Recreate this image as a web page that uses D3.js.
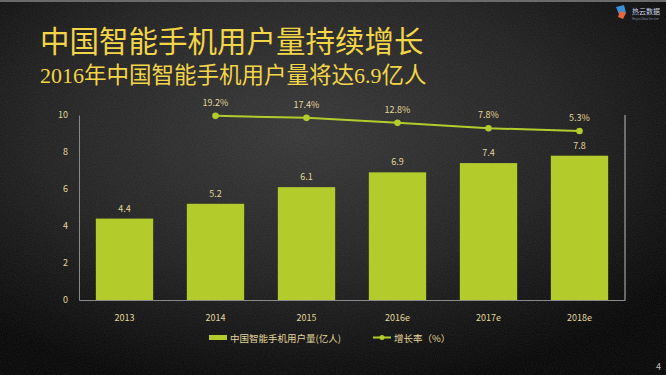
<!DOCTYPE html>
<meta charset="utf-8">
<head>
<script src="https://d3js.org/d3.v7.min.js"></script>
<style>
  html, body { margin: 0; padding: 0; background: #000; }
  #chart { width: 666px; height: 375px; }
  text { font-family: "Noto Sans CJK SC", "Open Sans", sans-serif; }
</style>
</head>
<body>
<div id="chart"></div>
<script>
  // data
  const years = ["2013", "2014", "2015", "2016e", "2017e", "2018e"];
  const users = [4.4, 5.2, 6.1, 6.9, 7.4, 7.8];          // 亿人
  const growth = [null, 19.2, 17.4, 12.8, 7.8, 5.3];     // %
  const yTicks = [0, 2, 4, 6, 8, 10];

  const W = 666, H = 375;
  const margin = {top: 115, right: 41, bottom: 75, left: 79};
  const width = W - margin.left - margin.right,
        height = H - margin.top - margin.bottom;

  const svg = d3.select("#chart").append("svg")
    .attr("width", W).attr("height", H);

  // background: dark textured slide with vignette
  const defs = svg.append("defs");
  const rg = defs.append("radialGradient").attr("id", "bg")
    .attr("cx", "45%").attr("cy", "35%").attr("r", "70%");
  rg.append("stop").attr("offset", "0%").attr("stop-color", "#353535");
  rg.append("stop").attr("offset", "55%").attr("stop-color", "#1f1f1f");
  rg.append("stop").attr("offset", "100%").attr("stop-color", "#030303");
  const filt = defs.append("filter").attr("id", "grain");
  filt.append("feTurbulence").attr("type", "fractalNoise")
    .attr("baseFrequency", 0.9).attr("numOctaves", 2).attr("seed", 3);
  filt.append("feColorMatrix").attr("type", "matrix")
    .attr("values", "0 0 0 0 0.6  0 0 0 0 0.6  0 0 0 0 0.6  0 0 0 0.12 0");
  svg.append("rect").attr("width", W).attr("height", H).attr("fill", "url(#bg)");
  svg.append("rect").attr("width", W).attr("height", H).attr("filter", "url(#grain)");
  svg.append("rect").attr("width", W).attr("height", 2).attr("fill", "#6a6a6a");

  // titles
  svg.append("text").attr("x", 40).attr("y", 52)
    .attr("fill", "#f3d548").attr("font-size", 29.5)
    .text("中国智能手机用户量持续增长");
  const sub = svg.append("text").attr("x", 40).attr("y", 83)
    .attr("fill", "#f3d548").attr("font-size", 22.5);
  sub.append("tspan").attr("font-family", "Liberation Serif, serif").attr("font-size", 22).text("2016");
  sub.append("tspan").text("年中国智能手机用户量将达");
  sub.append("tspan").attr("font-family", "Liberation Serif, serif").attr("font-size", 22).text("6.9");
  sub.append("tspan").text("亿人");

  // logo
  const logo = svg.append("g").attr("transform", "translate(616,5)");
  logo.append("path").attr("d", "M0,2 L8,0 L10,8 L4,12 Z").attr("fill", "#3a8fd9");
  logo.append("path").attr("d", "M4,6 L10,8 L7,14 L2,12 Z").attr("fill", "#e8643a");
  logo.append("text").attr("x", 16).attr("y", 9).attr("fill", "#c8d4e8")
    .attr("font-size", 7).text("热云数据");
  logo.append("text").attr("x", 16).attr("y", 15).attr("fill", "#7d8aa0")
    .attr("font-size", 3).text("Reyun Data Service");

  const g = svg.append("g").attr("transform", `translate(${margin.left},${margin.top})`);

  const x = d3.scaleBand().domain(years).range([0, width]).paddingInner(0.37).paddingOuter(0.185);
  const y = d3.scaleLinear().domain([0, 10]).range([height, 0]);
  const y2 = d3.scaleLinear().domain([-150, 20]).range([height, 0]);

  const labelColor = "#e2d69a";
  const green = "#b3cc2c";

  // left axis
  const yAxis = g.append("g").call(d3.axisLeft(y).tickValues(yTicks).tickSize(0).tickPadding(11));
  yAxis.select(".domain").attr("stroke", "#8a8a8a");
  yAxis.selectAll("text").attr("fill", labelColor).attr("font-size", 9)
    .attr("font-family", "Open Sans, sans-serif");

  // bottom axis
  const xAxis = g.append("g").attr("transform", `translate(0,${height})`)
    .call(d3.axisBottom(x).tickSize(0).tickPadding(15));
  xAxis.select(".domain").attr("stroke", "#8a8a8a");
  xAxis.selectAll("text").attr("fill", labelColor).attr("font-size", 9)
    .attr("font-family", "Open Sans, sans-serif");

  // right axis line (no labels)
  g.append("line").attr("x1", width).attr("x2", width).attr("y1", 0).attr("y2", height)
    .attr("stroke", "#bdbdbd").attr("stroke-width", 1);

  // bars
  g.selectAll("rect.bar").data(users).join("rect").attr("class", "bar")
    .attr("x", (d, i) => x(years[i]))
    .attr("y", d => y(d))
    .attr("width", x.bandwidth())
    .attr("height", d => height - y(d))
    .attr("fill", green);

  g.selectAll("text.blab").data(users).join("text").attr("class", "blab")
    .attr("x", (d, i) => x(years[i]) + x.bandwidth() / 2)
    .attr("y", d => y(d) - 7)
    .attr("text-anchor", "middle").attr("fill", labelColor).attr("font-size", 9)
    .attr("font-family", "Open Sans, sans-serif")
    .text(d => d.toFixed(1));

  // growth line
  const pts = growth.map((v, i) => ({v, yr: years[i]})).filter(d => d.v !== null);
  const line = d3.line().x(d => x(d.yr) + x.bandwidth() / 2).y(d => y2(d.v));
  g.append("path").datum(pts).attr("d", line)
    .attr("fill", "none").attr("stroke", green).attr("stroke-width", 2);
  g.selectAll("circle.pt").data(pts).join("circle").attr("class", "pt")
    .attr("cx", d => x(d.yr) + x.bandwidth() / 2).attr("cy", d => y2(d.v))
    .attr("r", 3.3).attr("fill", green);
  g.selectAll("text.plab").data(pts).join("text").attr("class", "plab")
    .attr("x", d => x(d.yr) + x.bandwidth() / 2).attr("y", d => y2(d.v) - 10)
    .attr("text-anchor", "middle").attr("fill", labelColor).attr("font-size", 9)
    .attr("font-family", "Open Sans, sans-serif")
    .text(d => d.v.toFixed(1) + "%");

  // legend
  const lg = svg.append("g").attr("transform", "translate(209,338)");
  lg.append("rect").attr("x", 0).attr("y", -3).attr("width", 18).attr("height", 5).attr("fill", green);
  lg.append("text").attr("x", 21).attr("y", 3.5).attr("fill", labelColor).attr("font-size", 9.5)
    .text("中国智能手机用户量(亿人)");
  lg.append("line").attr("x1", 164).attr("x2", 182).attr("y1", -0.5).attr("y2", -0.5)
    .attr("stroke", green).attr("stroke-width", 2);
  lg.append("circle").attr("cx", 173).attr("cy", -0.5).attr("r", 2.5).attr("fill", green);
  lg.append("text").attr("x", 185).attr("y", 3.5).attr("fill", labelColor).attr("font-size", 9.5)
    .text("增长率（%）");

  // page number
  svg.append("text").attr("x", 656).attr("y", 370).attr("fill", "#bbbbbb")
    .attr("font-size", 9).attr("font-family", "Open Sans, sans-serif").text("4");
</script>
</body>
